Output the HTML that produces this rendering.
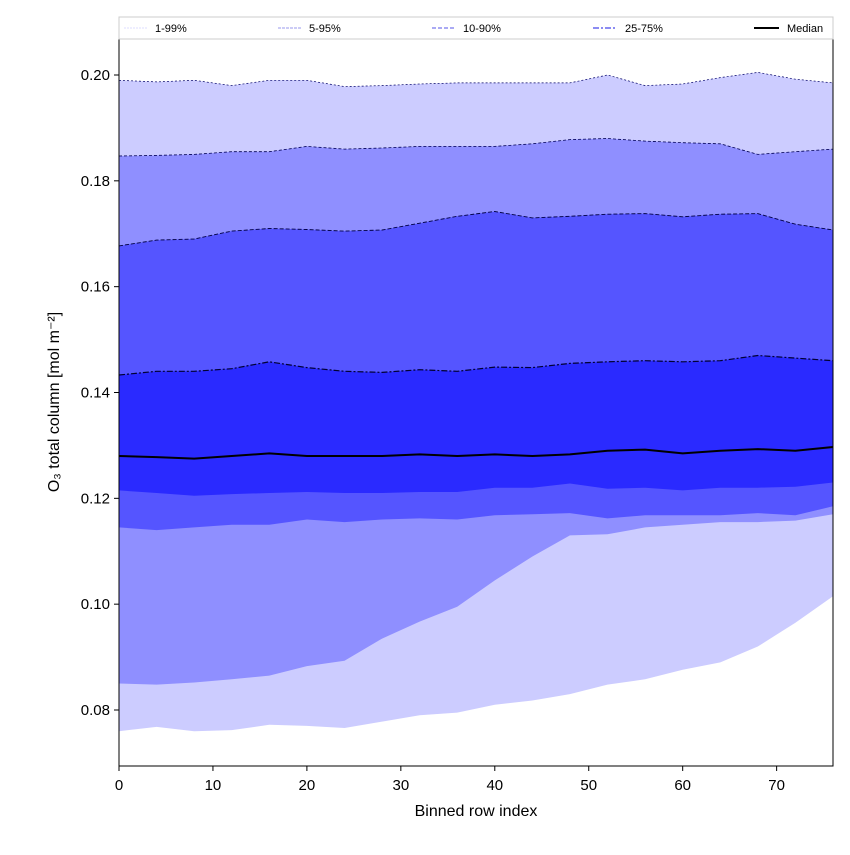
<!DOCTYPE html>
<html><head><meta charset="utf-8"><style>
body{margin:0;background:#fff}
svg{font-family:"Liberation Sans",sans-serif}
</style></head><body>
<svg id="chart" width="850" height="850">
<g id="bands"></g>
<g id="lines"></g>
<rect x="119" y="39" width="714" height="727" fill="none" stroke="#000" stroke-width="1"/>
<g id="axes"></g>
<text x="476" y="816" text-anchor="middle" font-size="16">Binned row index</text>
<text transform="translate(59,402) rotate(-90)" text-anchor="middle" font-size="16">O₃ total column [mol m⁻²]</text>
<g>
<rect x="119" y="17" width="714" height="22" fill="#fff" stroke="#ccc"/>
<line x1="124" y1="28" x2="148" y2="28" stroke="#ddddff" stroke-dasharray="2,1"/>
<text x="155" y="32" font-size="11">1-99%</text>
<line x1="278" y1="28" x2="302" y2="28" stroke="#9999ee" stroke-dasharray="3,1"/>
<text x="309" y="32" font-size="11">5-95%</text>
<line x1="432" y1="28" x2="456" y2="28" stroke="#7777ee" stroke-width="1.2" stroke-dasharray="4,2"/>
<text x="463" y="32" font-size="11">10-90%</text>
<line x1="593" y1="28" x2="617" y2="28" stroke="#6666ee" stroke-width="1.5" stroke-dasharray="6,2,2,2"/>
<text x="625" y="32" font-size="11">25-75%</text>
<line x1="754" y1="28" x2="779" y2="28" stroke="#000" stroke-width="2"/>
<text x="787" y="32" font-size="11">Median</text>
</g>
</svg>
<script>
const xs=[0,4,8,12,16,20,24,28,32,36,40,44,48,52,56,60,64,68,72,76];
const p1=[.0760,.0768,.0760,.0762,.0772,.0770,.0766,.0778,.0790,.0795,.0810,.0818,.0830,.0848,.0858,.0876,.0890,.0920,.0965,.1015];
const p5=[.0850,.0848,.0852,.0858,.0865,.0883,.0893,.0935,.0967,.0995,.1045,.1090,.1130,.1132,.1145,.1150,.1155,.1155,.1158,.1170];
const p10=[.1145,.1140,.1145,.1150,.1150,.1160,.1155,.1160,.1162,.1160,.1168,.1170,.1172,.1162,.1168,.1168,.1168,.1172,.1168,.1185];
const p25=[.1215,.1210,.1205,.1208,.1210,.1212,.1210,.1210,.1212,.1212,.1220,.1220,.1228,.1218,.1220,.1215,.1220,.1220,.1222,.1230];
const median=[.1280,.1278,.1275,.1280,.1285,.1280,.1280,.1280,.1283,.1280,.1283,.1280,.1283,.1290,.1292,.1285,.1290,.1293,.1290,.1297];
const p75=[.1433,.1440,.1440,.1445,.1458,.1447,.1440,.1438,.1443,.1440,.1448,.1447,.1455,.1458,.1460,.1458,.1460,.1470,.1465,.1460];
const p90=[.1677,.1688,.1690,.1705,.1710,.1708,.1705,.1707,.1720,.1733,.1742,.1730,.1733,.1737,.1738,.1732,.1737,.1738,.1718,.1707];
const p95=[.1847,.1848,.1850,.1855,.1855,.1865,.1860,.1862,.1865,.1865,.1865,.1870,.1878,.1880,.1875,.1872,.1870,.1850,.1855,.1860];
const p99=[.1990,.1987,.1990,.1980,.1990,.1990,.1978,.1980,.1983,.1985,.1985,.1985,.1985,.2000,.1980,.1983,.1995,.2005,.1992,.1985];
const xTicks=[0,10,20,30,40,50,60,70];
const yTicks=[0.08,0.10,0.12,0.14,0.16,0.18,0.20];
const X=v=>119+v*(714/76);
const Y=v=>710-(v-0.08)*5291.7;
const NS='http://www.w3.org/2000/svg';
const bands=document.getElementById('bands'),lines=document.getElementById('lines'),axes=document.getElementById('axes');
function pts(a){return xs.map((x,i)=>X(x).toFixed(1)+','+Y(a[i]).toFixed(1));}
function band(lo,hi,color,name){
  const p=document.createElementNS(NS,'polygon');
  p.setAttribute('points',pts(hi).concat(pts(lo).reverse()).join(' '));
  p.setAttribute('fill',color);
  
  
  bands.appendChild(p);
}
band(p1,p99,'#ccccff','band-1-99');
band(p5,p95,'#8f8fff','band-5-95');
band(p10,p90,'#5555ff','band-10-90');
band(p25,p75,'#2a2aff','band-25-75');
function line(a,stroke,w,dash,name){
  const p=document.createElementNS(NS,'polyline');
  p.setAttribute('points',pts(a).join(' '));
  p.setAttribute('fill','none');p.setAttribute('stroke',stroke);
  p.setAttribute('stroke-width',w);if(dash)p.setAttribute('stroke-dasharray',dash);
  
  
  lines.appendChild(p);
}
line(p99,'#000066',0.7,'2,2','line-p99');
line(p95,'#000055',0.8,'3,2','line-p95');
line(p90,'#000044',0.9,'4,2','line-p90');
line(p75,'#000033',1.2,'6,2,2,2','line-p75');
line(median,'#000',2,null,'median-line');
xTicks.forEach(t=>{
  const l=document.createElementNS(NS,'line');
  l.setAttribute('x1',X(t));l.setAttribute('x2',X(t));l.setAttribute('y1',766);l.setAttribute('y2',771);l.setAttribute('stroke','#000');
  
  
  axes.appendChild(l);
  const s=document.createElementNS(NS,'text');
  s.setAttribute('x',X(t));s.setAttribute('y',790);s.setAttribute('text-anchor','middle');s.setAttribute('font-size','15');
  s.textContent=t;
  
  
  axes.appendChild(s);
});
yTicks.forEach(t=>{
  const l=document.createElementNS(NS,'line');
  l.setAttribute('x1',114);l.setAttribute('x2',119);l.setAttribute('y1',Y(t));l.setAttribute('y2',Y(t));l.setAttribute('stroke','#000');
  
  
  axes.appendChild(l);
  const s=document.createElementNS(NS,'text');
  s.setAttribute('x',110);s.setAttribute('y',Y(t)+5);s.setAttribute('text-anchor','end');s.setAttribute('font-size','15');
  s.textContent=t.toFixed(2);
  
  
  axes.appendChild(s);
});
</script>
</body></html>
